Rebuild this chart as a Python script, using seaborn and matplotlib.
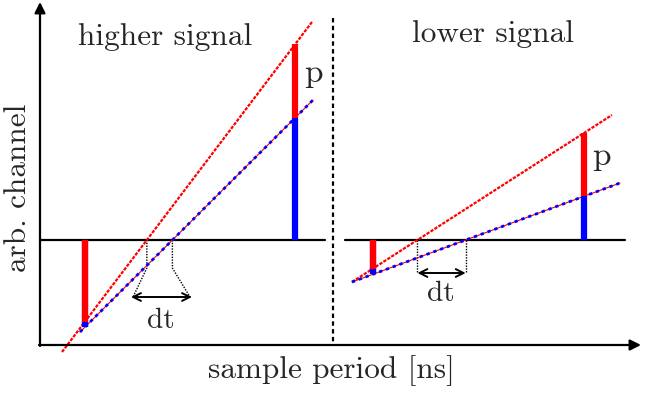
import numpy as np
import pandas as pd
import matplotlib
matplotlib.use("Agg")
import matplotlib.pyplot as plt
import seaborn as sns

sns.set_theme(style="white")
plt.rcParams["font.family"] = ["cmr10", "DejaVu Serif"]
plt.rcParams["axes.unicode_minus"] = False

# Sketch coordinates (x to the right, y downward), in figure pixels
# Higher-signal panel: two pulse rising edges
hi_red_x = [62, 312]
hi_red_y = [352, 22]
hi_blue_x = [80, 313]
hi_blue_y = [332, 100]
hi_bars_x = [85, 295]

# Lower-signal panel
lo_red_x = [352, 612]
lo_red_y = [282, 115]
lo_blue_x = [352, 620]
lo_blue_y = [282, 183]
lo_bars_x = [373, 584]

baseline_y = 240
hi_base = [40, 325]
lo_base = [345, 625]

red = "#ff0000"
blue = "#0000ff"

fig = plt.figure(figsize=(6.5, 3.94), dpi=100)
ax = fig.add_axes([0, 0, 1, 1])
ax.set_xlim(0, 650)
ax.set_ylim(394, 0)
ax.axis("off")


def lines_df(xr, yr, xb, yb):
    return pd.DataFrame({
        "x": list(xr) + list(xb),
        "y": list(yr) + list(yb),
        "edge": ["red"] * 2 + ["blue"] * 2,
    })


for xr, yr, xb, yb, base, bars in [
    (hi_red_x, hi_red_y, hi_blue_x, hi_blue_y, hi_base, hi_bars_x),
    (lo_red_x, lo_red_y, lo_blue_x, lo_blue_y, lo_base, lo_bars_x),
]:
    ax.plot(base, [baseline_y, baseline_y], color="black", lw=1.6, zorder=2)
    df = lines_df(xr, yr, xb, yb)
    sns.lineplot(data=df[df.edge == "red"], x="x", y="y", ax=ax, color=red,
                 lw=1.6, linestyle=(0, (1.5, 0.6)), zorder=3, estimator=None,
                 sort=False)
    sns.lineplot(data=df[df.edge == "blue"], x="x", y="y", ax=ax, color=red,
                 lw=0.8, zorder=3, estimator=None, sort=False)
    sns.lineplot(data=df[df.edge == "blue"], x="x", y="y", ax=ax, color=blue,
                 lw=2.0, linestyle=(0, (1.2, 1.4)), zorder=4, estimator=None,
                 sort=False)
    # signal bars: red part up to the red edge, blue part up to the blue edge
    for bx in bars:
        ry = np.interp(bx, xr, yr)
        by = np.interp(bx, xb, yb)
        ax.vlines(bx, baseline_y, by, color=blue, lw=4.5, zorder=5)
        if ry > baseline_y:
            ax.vlines(bx, baseline_y, ry, color=red, lw=4.5, zorder=5)
            ax.vlines(bx, ry, by, color=blue, lw=4.5, zorder=5)
        else:
            ax.vlines(bx, ry, by, color=red, lw=4.5, zorder=5)

    ax.set_xlabel("")
    ax.set_ylabel("")


def crossing(x, y):
    return np.interp(baseline_y, y[::-1], x[::-1])


# dt markers in the higher-signal panel
c1 = crossing(hi_red_x, hi_red_y)
c2 = crossing(hi_blue_x, hi_blue_y)
dot = dict(color="black", lw=1.0, linestyle=(0, (1, 1)), zorder=2)
ax.plot([c1, c1, 133], [baseline_y, 268, 297], **dot)
ax.plot([c2, c2, 190], [baseline_y, 268, 297], **dot)
ax.annotate("", xy=(131, 297), xytext=(192, 297),
            arrowprops=dict(arrowstyle="<->", color="black", lw=1.4,
                            mutation_scale=14, shrinkA=0, shrinkB=0))
ax.text(161, 321, "dt", fontsize=21, ha="center", va="center")

# dt markers in the lower-signal panel
c3 = crossing(lo_red_x, lo_red_y)
c4 = crossing(lo_blue_x, lo_blue_y)
ax.plot([c3, c3], [baseline_y, 273], **dot)
ax.plot([c4, c4], [baseline_y, 273], **dot)
ax.annotate("", xy=(c3, 273), xytext=(c4, 273),
            arrowprops=dict(arrowstyle="<->", color="black", lw=1.4,
                            mutation_scale=14, shrinkA=0, shrinkB=0))
ax.text(441, 294, "dt", fontsize=21, ha="center", va="center")

# p labels
ax.text(313, 73, "p", fontsize=24, ha="center", va="center")
ax.text(601, 156, "p", fontsize=24, ha="center", va="center")

# axes with arrow heads and panel divider
ax.annotate("", xy=(40, 2), xytext=(40, 346),
            arrowprops=dict(arrowstyle="-|>", color="black", lw=1.6,
                            mutation_scale=16, shrinkA=0, shrinkB=0))
ax.annotate("", xy=(641, 345), xytext=(39, 345),
            arrowprops=dict(arrowstyle="-|>", color="black", lw=1.6,
                            mutation_scale=16, shrinkA=0, shrinkB=0))
ax.plot([333, 333], [18, 345], color="black", lw=1.6,
        linestyle=(0, (2, 1.5)), zorder=1)

# titles and axis labels
ax.text(165, 37, "higher signal", fontsize=22.5, ha="center", va="center")
ax.text(493, 34, "lower signal", fontsize=22.5, ha="center", va="center")
ax.text(18, 188, "arb. channel", fontsize=22.5, ha="center", va="center",
        rotation=90)
ax.text(331, 371, "sample period [ns]", fontsize=22.5, ha="center",
        va="center")

fig.savefig("out.png", dpi=100)
